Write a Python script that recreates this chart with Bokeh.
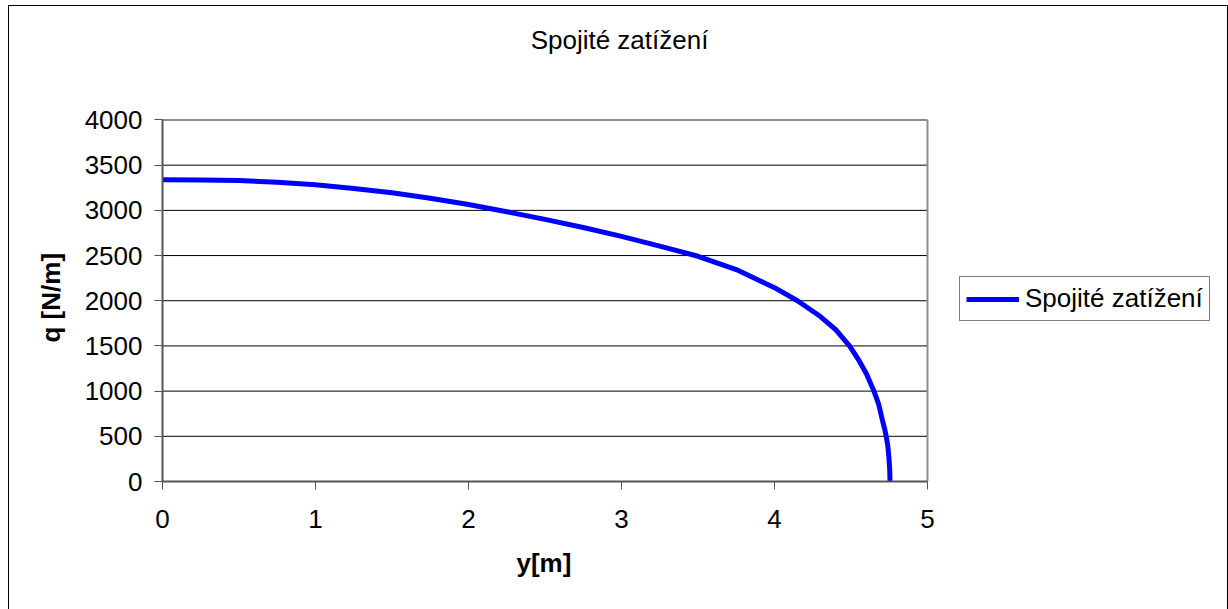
from bokeh.plotting import figure
from bokeh.models import (FixedTicker, Legend, LegendItem, Label, Range1d, InlineStyleSheet, Title)
from bokeh.embed import file_html
from bokeh.resources import INLINE

# ---- data ----
title_text = "Spojité zatížení"
series_name = "Spojité zatížení"
x_label = "y[m]"
y_label = "q [N/m]"
y_pos = [0, 0.25, 0.5, 0.75, 1.0, 1.25, 1.5, 1.75, 2.0, 2.25, 2.5, 2.75, 3.0, 3.25,
         3.5, 3.75, 4.0, 4.15, 4.3, 4.4, 4.49, 4.55, 4.6, 4.65, 4.68, 4.705, 4.72,
         4.73, 4.74, 4.748, 4.753, 4.755]
q_val = [3340, 3337, 3330, 3312, 3283, 3243, 3195, 3135, 3065, 2985, 2900, 2810, 2712,
         2605, 2492, 2345, 2145, 2000, 1825, 1680, 1500, 1345, 1195, 1000, 860, 680,
         580, 500, 400, 260, 130, 0]
x_ticks = [0, 1, 2, 3, 4, 5]
y_ticks = [0, 500, 1000, 1500, 2000, 2500, 3000, 3500, 4000]

FONT = "Liberation Sans"
FS = "26px"

x_min, x_max = x_ticks[0], x_ticks[-1]
y_min, y_max = y_ticks[0], y_ticks[-1]

# frame extends right (legend) and up (title) so nothing is clipped;
# the visible plot area is bounded by the axis bounds and border segments
p = figure(width=1212, height=593, output_backend="svg", toolbar_location=None,
           x_range=Range1d(0, 6.8627), y_range=Range1d(0, 5322),
           min_border_left=162, min_border_right=0, min_border_top=0,
           min_border_bottom=112)
p.stylesheets = [InlineStyleSheet(css=(
    ":host { position: relative; }"
    ":host::after { content: ''; position: absolute; left: 8px; top: 5px; "
    "width: 1218px; height: 640px; border: 1px solid #000; pointer-events: none; "
    "z-index: 10; }"))]

p.background_fill_color = "white"
p.border_fill_color = "white"
p.outline_line_color = None
p.xgrid.visible = False
p.ygrid.visible = False

# horizontal grid lines inside the plot area
grid_vals = [v for v in y_ticks if y_min < v < y_max]
p.segment(x0=[x_min] * len(grid_vals), x1=[x_max] * len(grid_vals),
          y0=grid_vals, y1=grid_vals, line_color="black", line_width=1)
# plot-area border (top and right)
p.segment(x0=[x_min, x_max], x1=[x_max, x_max], y0=[y_max, y_min], y1=[y_max, y_max],
          line_color="#8c8c8c", line_width=2)

for ax in (p.xaxis[0], p.yaxis[0]):
    ax.axis_line_color = "#555555"
    ax.axis_line_width = 2
    ax.major_tick_line_color = "#555555"
    ax.major_tick_line_width = 1
    ax.major_tick_in = 0
    ax.major_tick_out = 8
    ax.minor_tick_line_color = None
    ax.major_label_text_font = FONT
    ax.major_label_text_font_size = FS
    ax.major_label_text_color = "black"

p.xaxis.ticker = FixedTicker(ticks=x_ticks)
p.yaxis.ticker = FixedTicker(ticks=y_ticks)
p.xaxis.bounds = (x_min, x_max)
p.yaxis.bounds = (y_min, y_max)
p.xaxis.major_label_standoff = 20
p.yaxis.major_label_standoff = 12

# axis titles placed next to the plot area (not the wider frame)
p.add_layout(Title(text=x_label, align="left", offset=354, standoff=30,
                   text_font=FONT, text_font_size=FS, text_font_style="bold",
                   text_color="black"), "below")
p.add_layout(Title(text=y_label, align="left", offset=139, standoff=32,
                   text_font=FONT, text_font_size=FS, text_font_style="bold",
                   text_color="black"), "left")

r = p.line(y_pos, q_val, line_color="#0000ff", line_width=5)

legend = Legend(items=[LegendItem(label=series_name, renderers=[r])],
                location=(797, 160), margin=0, padding=6, spacing=0,
                glyph_width=53, glyph_height=26, label_standoff=6,
                label_text_font=FONT, label_text_font_size=FS,
                label_text_color="black",
                border_line_color="black", border_line_width=1,
                background_fill_color="white", background_fill_alpha=1)
p.add_layout(legend, "center")

p.add_layout(Label(x=2.987, y=4880, text=title_text, text_align="center",
                   text_baseline="alphabetic", text_font=FONT, text_font_size=FS,
                   text_color="black"))

open("out.html", "w").write(file_html(p, INLINE))
